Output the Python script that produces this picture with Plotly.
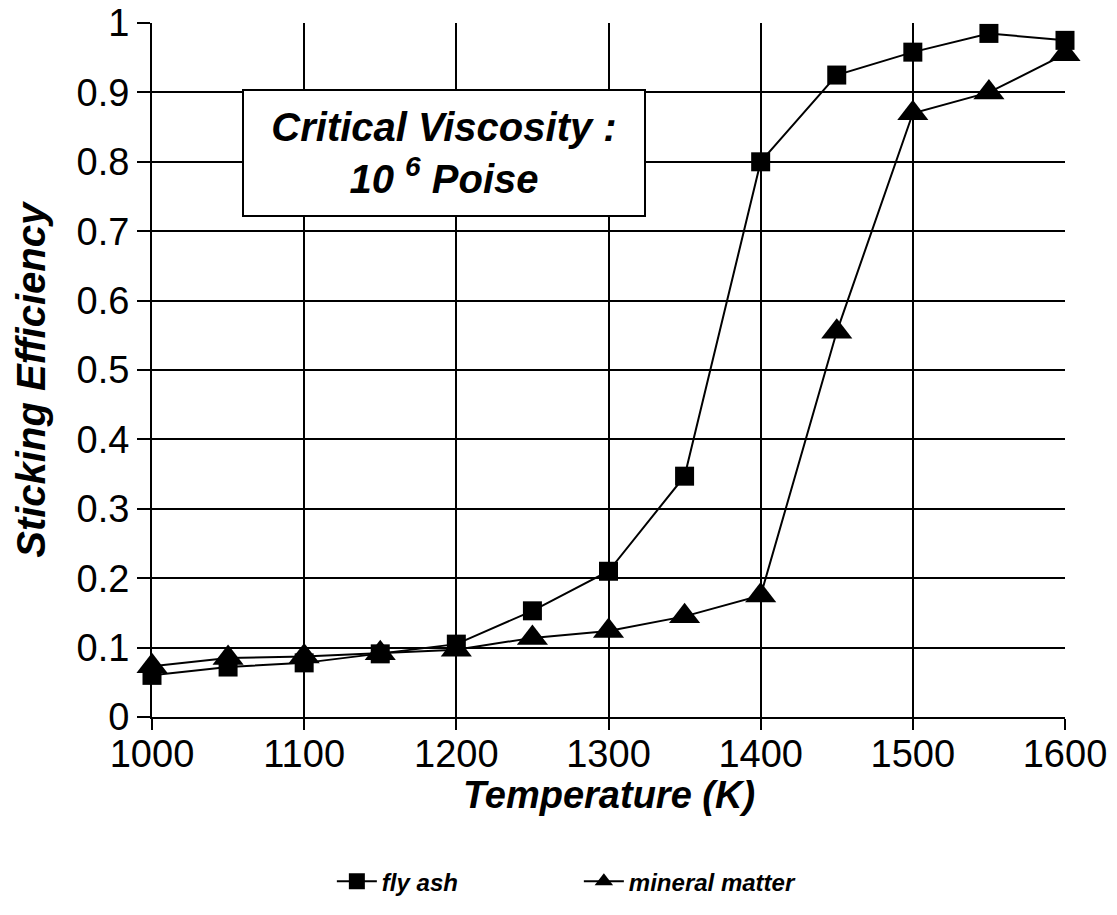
import plotly.graph_objects as go

temperature = [1000, 1050, 1100, 1150, 1200, 1250, 1300, 1350, 1400, 1450, 1500, 1550, 1600]
fly_ash = [0.060, 0.072, 0.078, 0.091, 0.105, 0.153, 0.210, 0.347, 0.800, 0.925, 0.958, 0.985, 0.975]
mineral_matter = [0.073, 0.085, 0.087, 0.092, 0.097, 0.114, 0.124, 0.145, 0.175, 0.555, 0.870, 0.900, 0.955]
x_ticks = [1000, 1100, 1200, 1300, 1400, 1500, 1600]
y_ticks = [0, 0.1, 0.2, 0.3, 0.4, 0.5, 0.6, 0.7, 0.8, 0.9, 1]
y_tick_labels = ["0", "0.1", "0.2", "0.3", "0.4", "0.5", "0.6", "0.7", "0.8", "0.9", "1"]

FONT = "Liberation Sans, Arial, sans-serif"

fig = go.Figure()
fig.add_trace(go.Scatter(
    x=temperature, y=fly_ash, name="<b><i>fly ash</i></b>", mode="lines+markers",
    line=dict(color="black", width=2),
    marker=dict(symbol="square", size=19, color="black"),
    cliponaxis=False,
))
fig.add_trace(go.Scatter(
    x=temperature, y=mineral_matter, name="<b><i>mineral matter</i></b>", mode="lines+markers",
    line=dict(color="black", width=2),
    marker=dict(symbol="triangle-up", size=27, color="black"),
    cliponaxis=False,
))

fig.add_annotation(
    x=0.32, y=0.812, xref="paper", yref="paper", xanchor="center", yanchor="middle",
    text="<b><i>Critical Viscosity :<br>10 <sup>6</sup> Poise</i></b>",
    showarrow=False, font=dict(family=FONT, size=40, color="black"),
    bgcolor="white", bordercolor="black", borderwidth=2, borderpad=10,
    width=380, height=104,
)
# axis titles
fig.add_annotation(
    x=0.5, y=-0.113, xref="paper", yref="paper", xanchor="center", yanchor="middle",
    text="<b><i>Temperature (K)</i></b>", showarrow=False,
    font=dict(family=FONT, size=38, color="black"),
)
fig.add_annotation(
    x=-0.1325, y=0.486, xref="paper", yref="paper", xanchor="center", yanchor="middle",
    text="<b><i>Sticking Efficiency</i></b>", showarrow=False, textangle=-90,
    font=dict(family=FONT, size=40, color="black"),
)

fig.update_layout(
    width=1117, height=915,
    margin=dict(l=152, r=52, t=23, b=197),
    paper_bgcolor="white", plot_bgcolor="white",
    font=dict(family=FONT, color="black"),
    showlegend=True,
    legend=dict(orientation="h", x=0.197, xanchor="left", y=-0.203, yanchor="top",
                font=dict(family=FONT, size=24, color="black"), entrywidth=192,
                itemwidth=40),
)
fig.update_xaxes(
    range=[1000, 1600], tickvals=x_ticks, ticktext=[str(v) for v in x_ticks],
    showgrid=True, gridcolor="black", gridwidth=2,
    showline=True, linecolor="black", linewidth=2,
    ticks="outside", ticklen=11, tickwidth=2, tickcolor="black",
    ticklabelstandoff=-9,
    tickfont=dict(family=FONT, size=38, color="black"),
    zeroline=False, automargin=False,
)
fig.update_yaxes(
    range=[0, 1], tickvals=y_ticks, ticktext=y_tick_labels,
    showgrid=True, gridcolor="black", gridwidth=2,
    showline=True, linecolor="black", linewidth=2,
    ticks="outside", ticklen=13, tickwidth=2, tickcolor="black",
    tickfont=dict(family=FONT, size=38, color="black"),
    zeroline=False, automargin=False,
)

fig.write_html("out.html")
